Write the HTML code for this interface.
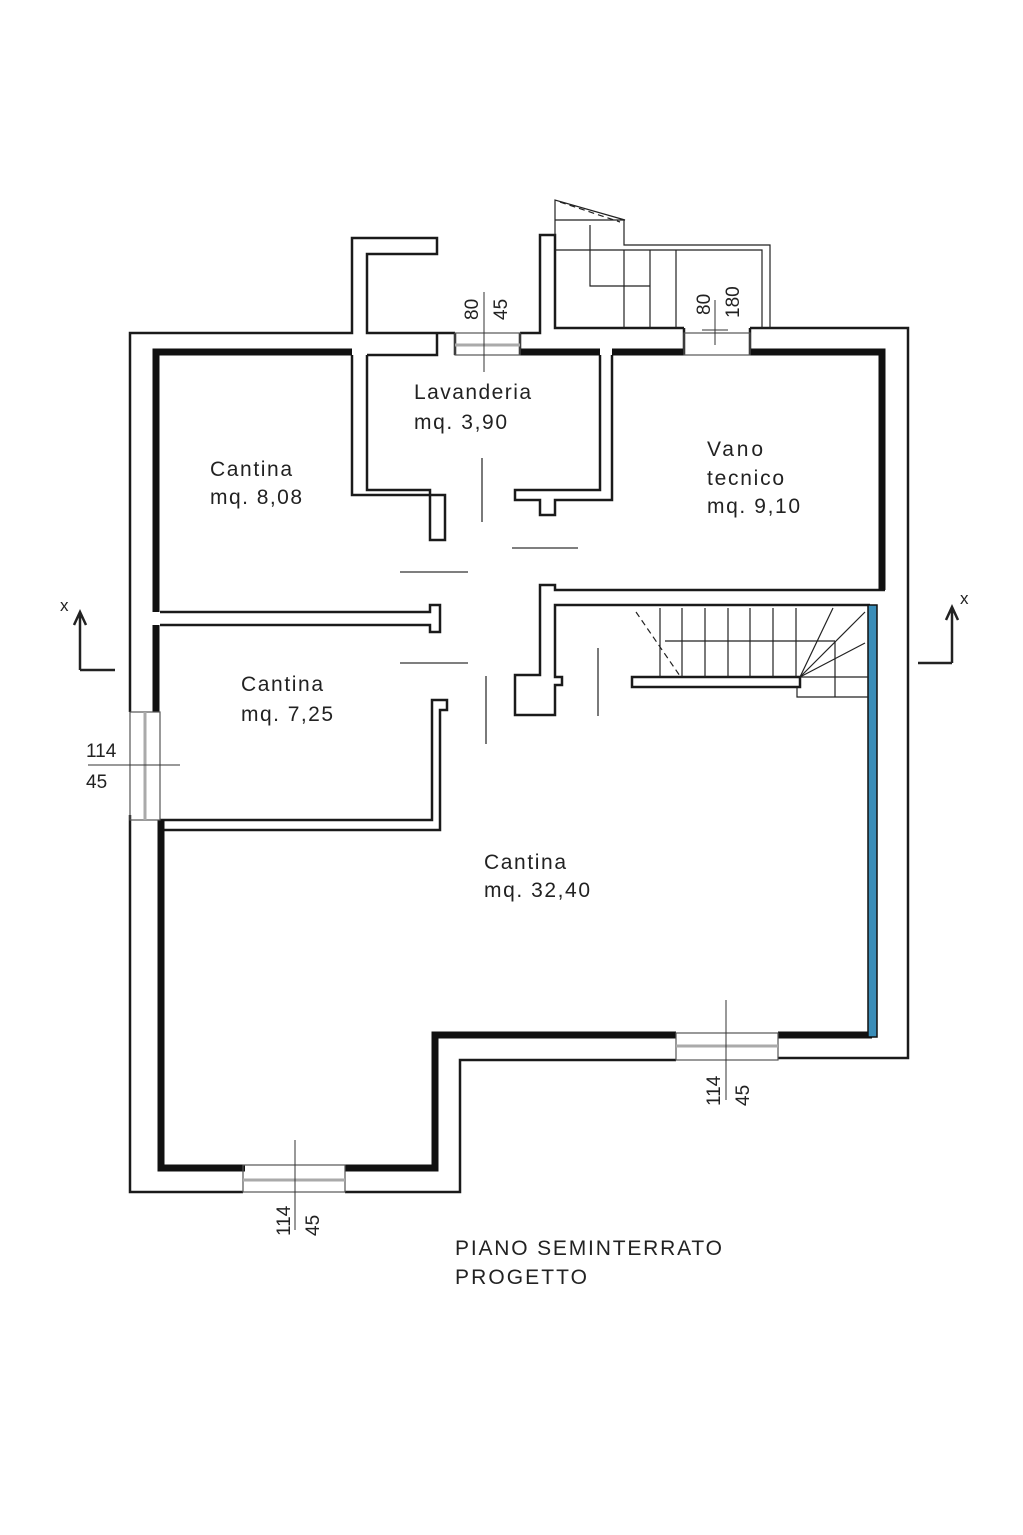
<!DOCTYPE html>
<html><head><meta charset="utf-8"><style>
html,body{margin:0;padding:0;background:#fff;}
svg{display:block;}
text{font-family:"Liberation Sans",sans-serif;fill:#222;}
</style></head><body>
<svg width="1023" height="1535" viewBox="0 0 1023 1535" xmlns="http://www.w3.org/2000/svg">
<rect width="1023" height="1535" fill="#fff"/>
<g fill="none" stroke="#1a1a1a" stroke-width="2.5" stroke-linejoin="miter">
<path d="M455,333 L437,333 L437,355 L367,355 M437,333 L367,333 L367,254 L437,254 L437,238 L352,238 L352,333 L130,333 L130,712"/>
<path d="M130,815 L130,1192 L243,1192"/>
<path d="M345,1192 L460,1192 L460,1060 L676,1060"/>
<path d="M778,1058 L908,1058 L908,328 L750,328"/>
<path d="M520,333 L540,333 L540,235 L555,235 L555,328 L684,328"/>
<path d="M520,333 L520,355 M684,328 L684,355 M750,328 L750,355 M455,333 L455,355"/>
<path d="M367,355 L367,490 L430,490 L430,540 L445,540 L445,495 L352,495 L352,355"/>
<path d="M600,355 L600,490 L515,490 L515,500 L540,500 L540,515 L555,515 L555,500 L612,500 L612,355"/>
<path d="M160,612 L430,612 L430,605 L440,605 L440,632 L430,632 L430,625 L160,625"/>
<path d="M160,830 L440,830 L440,710 L447,710 L447,700 L432,700 L432,820 L160,820"/>
<path d="M885,590 L555,590 L555,585 L540,585 L540,675 L515,675 L515,715 L555,715 L555,685 L562,685 L562,677 L555,677 L555,605 L870,605"/>
<path d="M632,677 L800,677 L800,687 L632,687 Z"/>
</g>
<g fill="none" stroke="#111" stroke-width="7">
<path d="M156,612 L156,352 L352,352"/>
<path d="M156,625 L156,712"/>
<path d="M161,820 L161,1168 L245,1168"/>
<path d="M345,1168 L435,1168 L435,1035 L676,1035"/>
<path d="M778,1035 L872,1035"/>
<path d="M520,352 L600,352 M612,352 L684,352 M750,352 L882,352 L882,590"/>
</g>
<rect x="868" y="605" width="9" height="432" fill="#3a8db8" stroke="#111" stroke-width="1.5"/>
<g fill="none" stroke="#555" stroke-width="1.2">
<rect x="130" y="712" width="30" height="108"/>
<line x1="145" y1="712" x2="145" y2="820" stroke="#aaa" stroke-width="3"/>
<rect x="243" y="1165" width="102" height="27"/>
<line x1="243" y1="1180" x2="345" y2="1180" stroke="#aaa" stroke-width="3"/>
<rect x="676" y="1033" width="102" height="27"/>
<line x1="676" y1="1046" x2="778" y2="1046" stroke="#aaa" stroke-width="3"/>
<rect x="455" y="333" width="65" height="22"/>
<line x1="455" y1="345" x2="520" y2="345" stroke="#aaa" stroke-width="3"/>
<rect x="684" y="333" width="66" height="22"/>
</g>
<g stroke="#333" stroke-width="1">
<line x1="88" y1="765" x2="180" y2="765"/>
<line x1="295" y1="1140" x2="295" y2="1230"/>
<line x1="726" y1="1000" x2="726" y2="1100"/>
<line x1="484" y1="292" x2="484" y2="372"/>
<line x1="715" y1="300" x2="715" y2="345"/>
<line x1="702" y1="330" x2="728" y2="330"/>
</g>
<g stroke="#333" stroke-width="1.3">
<line x1="482" y1="458" x2="482" y2="522"/>
<line x1="512" y1="548" x2="578" y2="548"/>
<line x1="400" y1="572" x2="468" y2="572"/>
<line x1="400" y1="663" x2="468" y2="663"/>
<line x1="486" y1="676" x2="486" y2="744"/>
<line x1="598" y1="648" x2="598" y2="716"/>
</g>
<g stroke="#222" stroke-width="1.2" fill="none">
<line x1="660" y1="608" x2="660" y2="677"/>
<line x1="682" y1="608" x2="682" y2="677"/>
<line x1="705" y1="608" x2="705" y2="677"/>
<line x1="728" y1="608" x2="728" y2="677"/>
<line x1="750" y1="608" x2="750" y2="677"/>
<line x1="773" y1="608" x2="773" y2="677"/>
<line x1="796" y1="608" x2="796" y2="677"/>
<line x1="800" y1="677" x2="833" y2="608"/>
<line x1="800" y1="677" x2="865" y2="612"/>
<line x1="800" y1="677" x2="865" y2="643"/>
<line x1="800" y1="677" x2="868" y2="677"/>
<line x1="665" y1="641" x2="835" y2="641"/>
<line x1="835" y1="641" x2="835" y2="697"/>
<path d="M797,687 L797,697 L868,697"/>
<line x1="636" y1="612" x2="680" y2="676" stroke-dasharray="6,4"/>
<path d="M555,235 L555,200 L625,220 L555,220"/>
<line x1="560" y1="202" x2="620" y2="222" stroke-dasharray="6,4"/>
<path d="M624,220 L624,245 L770,245 L770,328"/>
<path d="M555,250 L762,250 L762,328"/>
<line x1="624" y1="250" x2="624" y2="328"/>
<line x1="650" y1="250" x2="650" y2="328"/>
<line x1="676" y1="250" x2="676" y2="328"/>
<path d="M590,225 L590,286 L650,286"/>
</g>
<g stroke="#222" stroke-width="2.5" fill="none">
<path d="M80,670 L80,615 M74,625 L80,612 L86,625 M80,670 L115,670"/>
<path d="M952,663 L952,610 M946,620 L952,607 L958,620 M952,663 L918,663"/>
</g>
<text x="60" y="611" font-size="17">x</text>
<text x="960" y="604" font-size="17">x</text>
<g font-size="21">
<text x="414" y="399" textLength="117">Lavanderia</text>
<text x="414" y="429" textLength="93">mq. 3,90</text>
<text x="210" y="476" textLength="82">Cantina</text>
<text x="210" y="504" textLength="92">mq. 8,08</text>
<text x="707" y="456" textLength="56">Vano</text>
<text x="707" y="485" textLength="77">tecnico</text>
<text x="707" y="513" textLength="93">mq. 9,10</text>
<text x="241" y="691" textLength="82">Cantina</text>
<text x="241" y="721" textLength="92">mq. 7,25</text>
<text x="484" y="869" textLength="82">Cantina</text>
<text x="484" y="897" textLength="106">mq. 32,40</text>
</g>
<g font-size="19">
<text x="86" y="757">114</text>
<text x="86" y="788">45</text>
<text transform="translate(290,1236) rotate(-90)">114</text>
<text transform="translate(319,1236) rotate(-90)">45</text>
<text transform="translate(720,1106) rotate(-90)">114</text>
<text transform="translate(749,1106) rotate(-90)">45</text>
<text transform="translate(478,320) rotate(-90)">80</text>
<text transform="translate(507,320) rotate(-90)">45</text>
<text transform="translate(710,315) rotate(-90)">80</text>
<text transform="translate(739,318) rotate(-90)">180</text>
</g>
<text x="455" y="1255" font-size="21" textLength="267">PIANO SEMINTERRATO</text>
<text x="455" y="1284" font-size="21" textLength="132">PROGETTO</text>
</svg>
</body></html>
